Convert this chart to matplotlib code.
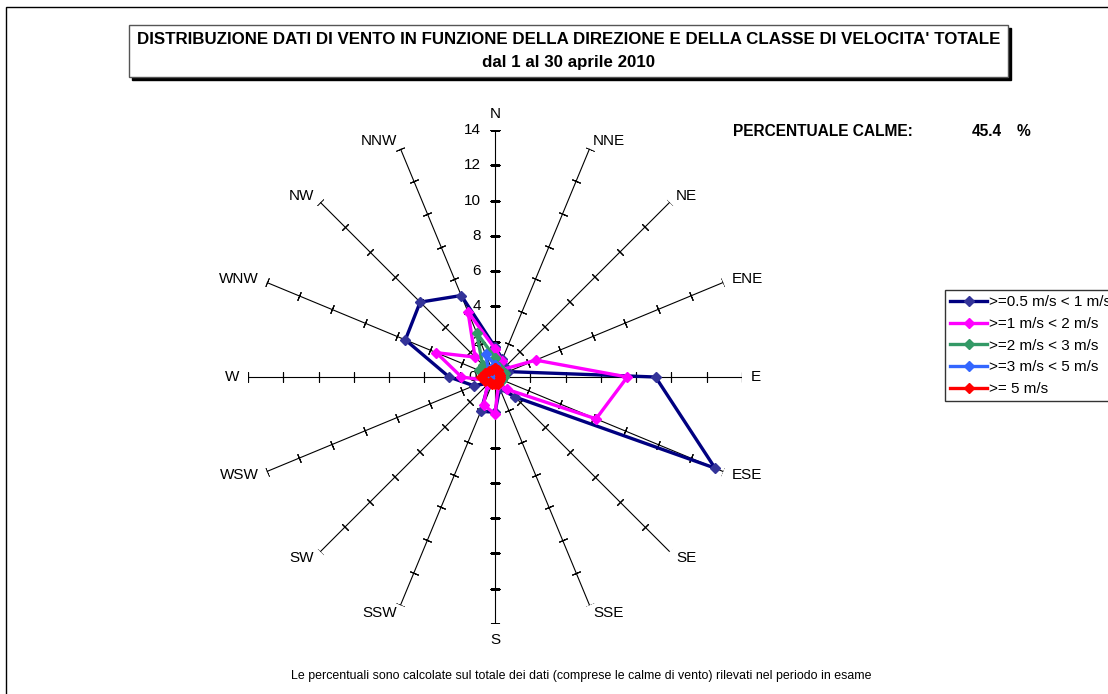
import numpy as np
import matplotlib.pyplot as plt
from matplotlib.patches import Rectangle

plt.rcParams['font.family'] = ['Liberation Sans', 'DejaVu Sans']

# --- data (percent of all records) ---
directions = ['N', 'NNE', 'NE', 'ENE', 'E', 'ESE', 'SE', 'SSE',
              'S', 'SSW', 'SW', 'WSW', 'W', 'WNW', 'NW', 'NNW']
v_05_1 = [1.7, 1.1, 0.8, 0.8, 9.1, 13.5, 1.6, 0.7, 2.0, 2.1, 0.5, 1.3, 2.6, 5.5, 6.0, 5.0]
v_1_2 = [1.6, 1.0, 0.6, 2.5, 7.5, 6.2, 1.0, 0.5, 2.1, 1.7, 0.6, 0.5, 1.9, 3.6, 1.6, 4.0]
v_2_3 = [1.1, 0.6, 0.5, 0.6, 0.5, 0.4, 0.4, 0.3, 0.3, 0.3, 0.3, 0.4, 0.6, 1.0, 1.0, 2.7]
v_3_5 = [0.7, 0.4, 0.3, 0.3, 0.3, 0.3, 0.3, 0.2, 0.2, 0.2, 0.2, 0.2, 0.3, 0.3, 0.5, 1.4]
v_5 = [0.5, 0.4, 0.3, 0.3, 0.3, 0.3, 0.3, 0.4, 0.4, 0.4, 0.4, 0.6, 0.8, 0.6, 0.5, 0.4]
labels = ['>=0.5 m/s < 1 m/s', '>=1 m/s < 2 m/s', '>=2 m/s < 3 m/s',
          '>=3 m/s < 5 m/s', '>= 5 m/s']
calme = 45.4
r_ticks = [0, 2, 4, 6, 8, 10, 12, 14]

series = [v_05_1, v_1_2, v_2_3, v_3_5, v_5]
line_cols = ['#000080', '#FF00FF', '#339966', '#3366FF', '#FF0000']
mark_cols = ['#333399', '#FF00FF', '#339966', '#3366FF', '#FF0000']

fig = plt.figure(figsize=(11.08, 6.94), dpi=100)

# outer frame (left/top edges visible)
fig.patches.append(Rectangle((6 / 1108, -0.1), 1.2, 1 - 7 / 694 + 0.1,
                             transform=fig.transFigure, fill=False,
                             edgecolor='black', lw=1))

# title box with shadow
bx, by, bw, bh = 129 / 1108, 1 - 77 / 694, 879 / 1108, 52 / 694
fig.patches.append(Rectangle((bx + 3 / 1108, by - 3 / 694), bw, bh,
                             transform=fig.transFigure, facecolor='black',
                             edgecolor='black'))
fig.patches.append(Rectangle((bx, by), bw, bh, transform=fig.transFigure,
                             facecolor='white', edgecolor='#555555', lw=1))
fig.text(569 / 1108, 1 - 40 / 694,
         "DISTRIBUZIONE DATI DI VENTO IN FUNZIONE DELLA DIREZIONE E DELLA CLASSE DI VELOCITA' TOTALE",
         ha='center', va='center', fontsize=12.2, fontweight='bold')
fig.text(569 / 1108, 1 - 62 / 694, 'dal 1 al 30 aprile 2010',
         ha='center', va='center', fontsize=12.2, fontweight='bold')

# radar axes
ax = fig.add_axes([248 / 1108, 70 / 694, 494 / 1108, 494 / 694], projection='polar')
ax.set_theta_zero_location('N')
ax.set_theta_direction(-1)
ax.set_ylim(0, 14)
ax.grid(False)
ax.set_xticks([])
ax.set_yticks([])
ax.spines['polar'].set_visible(False)
ax.patch.set_alpha(0)

theta = np.deg2rad(np.arange(len(directions)) * 22.5)

# spokes with tick marks
for th, name in zip(theta, directions):
    ax.plot([th, th], [0, 14], color='black', lw=0.8, zorder=1)
    deg = np.rad2deg(th)
    ax.plot([th] * (len(r_ticks) - 1), r_ticks[1:], ls='none',
            marker=(2, 2, 90 - deg), ms=6.5, mew=0.8, color='black', zorder=1)
    s, c = np.sin(th), np.cos(th)
    if abs(s) < 0.1:
        ha = 'center'
        va = 'bottom' if c > 0 else 'top'
    else:
        ha = 'left' if s > 0 else 'right'
        va = 'center'
    ax.text(th, 14.5, name, ha=ha, va=va, fontsize=11, clip_on=False)

# radial value labels on the N axis
for r in r_ticks:
    ax.annotate(str(r), xy=(0, r), xytext=(-10 if r > 0 else -13, 0),
                textcoords='offset points', ha='right', va='center',
                fontsize=11, annotation_clip=False)

# data series
tc = np.append(theta, theta[0])
for vals, lab, lc, mc in zip(series, labels, line_cols, mark_cols):
    v = np.append(vals, vals[0])
    ax.plot(tc, v, color=lc, lw=2.4, marker='D', ms=5.5, mfc=mc, mec=mc,
            label=lab, zorder=3, clip_on=False)

leg = fig.legend(loc='upper left', bbox_to_anchor=(945 / 1108, 1 - 290 / 694),
                 fontsize=11, frameon=True, fancybox=False, handlelength=2.4,
                 borderpad=0.35, labelspacing=0.5, handletextpad=0.15,
                 borderaxespad=0)
leg.get_frame().set_edgecolor('black')
leg.get_frame().set_linewidth(1)

fig.text(733 / 1108, 1 - 132 / 694, 'PERCENTUALE CALME:', ha='left',
         va='center', fontsize=11.2, fontweight='bold')
fig.text(1002 / 1108, 1 - 132 / 694, f'{calme}', ha='right', va='center',
         fontsize=11.2, fontweight='bold')
fig.text(1017 / 1108, 1 - 132 / 694, '%', ha='left', va='center',
         fontsize=11.2, fontweight='bold')

fig.text(581 / 1108, 1 - 676 / 694,
         'Le percentuali sono calcolate sul totale dei dati (comprese le calme di vento) rilevati nel periodo in esame',
         ha='center', va='center', fontsize=8.9)

fig.savefig('out.png', dpi=100)
